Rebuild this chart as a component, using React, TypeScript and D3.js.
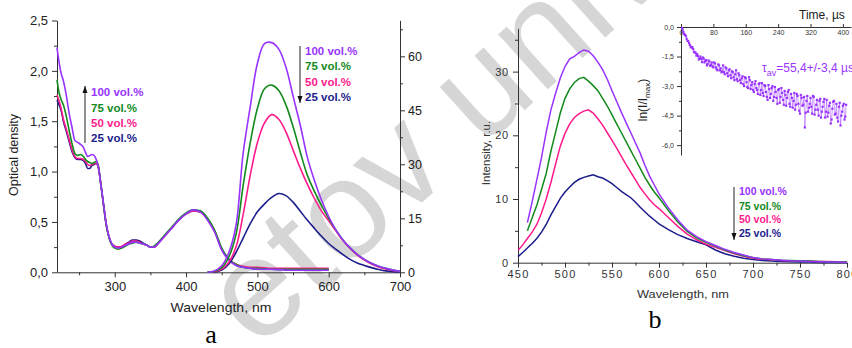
import React, { useEffect, useRef } from "react";
import * as d3 from "d3";

const W = 852;
const H = 348;
const SANS = "'Liberation Sans', Arial, sans-serif";
const SERIF = "'Liberation Serif', 'Times New Roman', serif";

const VIOLET = "#9933ff";
const GREEN = "#138a1c";
const PINK = "#ff1a8c";
const NAVY = "#1c1c8c";

// ---------- panel a: absorption (left axis) ----------
const absWl = [219, 222, 225, 228, 232, 236, 240, 244, 248, 252, 256, 259, 262, 265, 268, 271, 274, 277, 280, 284, 288, 292, 296, 300, 305, 310, 315, 320, 325, 330, 335, 340, 345, 350, 355, 360, 370, 380, 390, 400, 410, 420, 430, 440, 450, 460, 470, 480, 490, 500, 520, 550, 580, 600];
const absViolet = [2.23, 2.08, 1.97, 1.9, 1.76, 1.58, 1.44, 1.31, 1.29, 1.27, 1.24, 1.19, 1.15, 1.16, 1.17, 1.16, 1.12, 1.05, 0.9, 0.69, 0.48, 0.35, 0.28, 0.25, 0.24, 0.25, 0.27, 0.28, 0.3, 0.3, 0.29, 0.28, 0.27, 0.25, 0.25, 0.28, 0.36, 0.44, 0.52, 0.58, 0.62, 0.6, 0.52, 0.4, 0.22, 0.12, 0.07, 0.05, 0.04, 0.03, 0.03, 0.02, 0.02, 0.02];
const absGreen = [1.91, 1.78, 1.71, 1.66, 1.55, 1.41, 1.28, 1.18, 1.16, 1.17, 1.15, 1.12, 1.1, 1.09, 1.08, 1.09, 1.1, 1.06, 0.9, 0.68, 0.47, 0.34, 0.27, 0.24, 0.23, 0.24, 0.26, 0.28, 0.29, 0.3, 0.29, 0.28, 0.27, 0.25, 0.26, 0.29, 0.37, 0.45, 0.53, 0.59, 0.62, 0.61, 0.54, 0.42, 0.24, 0.13, 0.08, 0.05, 0.04, 0.04, 0.03, 0.03, 0.03, 0.03];
const absPink = [1.76, 1.7, 1.62, 1.52, 1.42, 1.32, 1.22, 1.15, 1.13, 1.13, 1.12, 1.1, 1.07, 1.06, 1.07, 1.08, 1.08, 1.04, 0.9, 0.68, 0.47, 0.35, 0.28, 0.26, 0.25, 0.26, 0.28, 0.29, 0.31, 0.31, 0.3, 0.28, 0.27, 0.25, 0.25, 0.28, 0.36, 0.44, 0.52, 0.58, 0.61, 0.6, 0.53, 0.41, 0.23, 0.13, 0.08, 0.06, 0.05, 0.05, 0.04, 0.04, 0.04, 0.04];
const absNavy = [1.71, 1.66, 1.6, 1.5, 1.4, 1.3, 1.2, 1.14, 1.12, 1.12, 1.11, 1.08, 1.03, 1.03, 1.06, 1.07, 1.08, 1.04, 0.9, 0.69, 0.48, 0.35, 0.28, 0.26, 0.25, 0.25, 0.28, 0.3, 0.32, 0.32, 0.31, 0.29, 0.27, 0.25, 0.25, 0.28, 0.36, 0.44, 0.52, 0.58, 0.61, 0.6, 0.53, 0.41, 0.23, 0.13, 0.07, 0.05, 0.04, 0.03, 0.03, 0.02, 0.02, 0.02];

// ---------- panel a: emission (right axis) ----------
const emWl = [430, 440, 450, 460, 470, 480, 490, 500, 510, 520, 530, 540, 550, 560, 570, 580, 590, 600, 610, 620, 630, 640, 650, 660, 670, 680, 690, 700];
const emViolet = [0, 0.4, 1.8, 5.5, 13, 33, 46, 58, 63.5, 63.8, 62, 57, 49, 41, 32, 25.5, 20, 15.5, 11.8, 9, 6.8, 5, 3.6, 2.5, 1.7, 1.1, 0.6, 0.3];
const emGreen = [0, 0.3, 1.3, 4.3, 10.5, 24, 36, 45.5, 51, 52, 50.5, 46.5, 40.5, 33.5, 27, 22.5, 18.5, 15, 11.8, 9, 6.8, 5, 3.6, 2.5, 1.7, 1.1, 0.6, 0.3];
const emPink = [0, 0.2, 0.9, 2.8, 7, 16, 27, 36, 41.5, 43.8, 42.5, 39, 34, 29, 24.5, 20.5, 17, 14.3, 11.5, 8.8, 6.6, 4.8, 3.4, 2.3, 1.5, 0.9, 0.5, 0.2];
const emNavy = [0, 0.1, 0.6, 2.3, 5.5, 9.5, 13.5, 16.8, 19, 20.8, 21.9, 21.3, 19.5, 17, 14.5, 12.2, 10, 8, 6.4, 4.9, 3.6, 2.6, 1.9, 1.3, 0.8, 0.4, 0.2, 0.1];

// ---------- panel b: photoluminescence ----------
const plWl = [450, 455, 460, 465, 470, 475, 480, 485, 490, 495, 500, 505, 510, 515, 520, 525, 530, 535, 540, 545, 550, 555, 560, 565, 570, 575, 580, 585, 590, 595, 600, 610, 620, 630, 640, 650, 660, 670, 680, 690, 700, 710, 720, 730, 740, 750, 760, 770, 780, 790, 800];
const plViolet = [null, null, 6.3, 9.5, 13, 16.5, 20.5, 24, 26.6, 29, 30.8, 32, 32.4, 33, 33.4, 33.2, 32.5, 31.5, 30.3, 28.8, 27, 25.3, 23.6, 22, 20.4, 18.8, 17.2, 15.3, 13.6, 12.2, 10.8, 8.6, 6.7, 5.1, 4.1, 3.3, 2.7, 2.1, 1.6, 1.2, 0.8, 0.6, 0.5, 0.4, 0.3, 0.25, 0.2, 0.15, 0.1, 0.1, 0.05];
const plGreen = [null, null, 5, 7, 9, 11.5, 14, 17.5, 20.5, 23.5, 25.8, 27.3, 28.3, 28.9, 29.1, 28.5, 27.8, 27, 25.8, 24.6, 23.2, 21.8, 20.4, 19, 17.6, 16.2, 14.8, 13.4, 12.2, 11.1, 10.2, 8.2, 6.4, 4.9, 3.9, 3.2, 2.6, 2, 1.5, 1.1, 0.8, 0.6, 0.5, 0.4, 0.35, 0.3, 0.25, 0.2, 0.15, 0.1, 0.1];
const plPink = [1.9, 2.8, 3.8, 4.8, 6, 7.8, 10, 12.6, 15.5, 18.3, 20.3, 21.8, 22.8, 23.4, 23.8, 24, 23.5, 22.6, 21.6, 20.4, 19.2, 18, 16.7, 15.4, 14.2, 13, 11.8, 10.8, 9.9, 9.1, 8.5, 7.1, 5.7, 4.5, 3.6, 2.9, 2.4, 1.9, 1.4, 1, 0.7, 0.55, 0.45, 0.35, 0.3, 0.3, 0.25, 0.2, 0.2, 0.15, 0.1];
const plNavy = [0.95, 1.6, 2.3, 3, 3.8, 4.8, 6, 7.5, 8.8, 10.1, 11.1, 11.9, 12.6, 13.1, 13.4, 13.6, 13.8, 13.5, 13.3, 12.9, 12.4, 11.8, 11.2, 10.7, 10.2, 9.5, 8.7, 8, 7.3, 6.7, 6.1, 5.2, 4.4, 3.8, 3.3, 2.8, 2, 1.4, 1, 0.7, 0.5, 0.35, 0.25, 0.2, 0.15, 0.1, 0.1, 0.05, 0.05, 0.05, 0.05];

// ---------- inset: decay, two interleaved sweeps of points ----------
const decayTA = [0, 4, 8, 12, 16, 20, 24, 28, 32, 36, 40, 44, 48, 52, 56, 60, 64, 68, 72, 76, 80, 84, 88, 92, 96, 100, 104, 108, 112, 116, 120, 124, 128, 132, 136, 140, 144, 148, 152, 156, 160, 164, 168, 172, 176, 180, 184, 188, 192, 196, 200, 204, 208, 212, 216, 220, 224, 228, 232, 236, 240, 244, 248, 252, 256, 260, 264, 268, 272, 276, 280, 284, 288, 292, 296, 300, 304, 308, 312, 316, 320, 324, 328, 332, 336, 340, 344, 348, 352, 356, 360, 364, 368, 372, 376, 380, 384, 388, 392, 396, 400, 404, 408];
const decayLnA = [0, -0.12, -0.36, -0.46, -0.7, -0.82, -1.0, -1.02, -1.26, -1.3, -1.38, -1.65, -1.5, -1.78, -1.6, -1.72, -1.95, -1.7, -1.98, -1.8, -2.05, -1.85, -2.15, -1.9, -2.2, -2.3, -1.95, -2.4, -2.1, -2.5, -2.15, -2.6, -2.3, -2.7, -2.2, -2.75, -2.45, -2.85, -2.5, -3.0, -2.6, -3.05, -2.55, -3.15, -2.8, -3.3, -2.75, -3.2, -2.9, -3.45, -2.85, -3.5, -3.0, -3.55, -2.95, -3.6, -3.1, -3.75, -3.05, -3.6, -3.2, -3.85, -3.1, -3.7, -3.25, -4.0, -3.3, -3.9, -3.4, -4.1, -3.35, -3.95, -3.5, -4.25, -3.45, -4.0, -3.55, -4.35, -3.5, -4.1, -3.6, -4.4, -3.55, -4.2, -3.7, -4.5, -3.65, -4.3, -3.8, -4.6, -3.7, -4.35, -3.85, -4.7, -3.8, -4.45, -3.9, -4.8, -3.85, -4.5, -4.0, -4.7, -3.95];
const decayTB = [2, 6, 10, 14, 18, 22, 26, 30, 34, 38, 42, 46, 50, 54, 58, 62, 66, 70, 74, 78, 82, 86, 90, 94, 98, 102, 106, 110, 114, 118, 122, 126, 130, 134, 138, 142, 146, 150, 154, 158, 162, 166, 170, 174, 178, 182, 186, 190, 194, 198, 202, 206, 210, 214, 218, 222, 226, 230, 234, 238, 242, 246, 250, 254, 258, 262, 266, 270, 274, 278, 282, 286, 290, 294, 298, 302, 306, 310, 314, 318, 322, 326, 330, 334, 338, 342, 346, 350, 354, 358, 362, 366, 370, 374, 378, 382, 386, 390, 394, 398, 402, 406];
const decayLnB = [-0.05, -0.25, -0.4, -0.6, -0.72, -0.92, -1.05, -1.12, -1.3, -1.45, -1.48, -1.6, -1.62, -1.55, -1.8, -1.68, -1.88, -1.75, -1.92, -2.0, -1.8, -2.05, -2.2, -1.95, -2.1, -2.25, -2.3, -2.05, -2.35, -2.2, -2.45, -2.25, -2.55, -2.4, -2.65, -2.35, -2.7, -2.6, -2.9, -2.55, -2.8, -3.1, -2.7, -2.95, -3.2, -2.9, -3.1, -3.4, -2.85, -3.2, -3.35, -2.95, -3.3, -3.7, -3.15, -3.4, -3.0, -3.55, -3.3, -3.9, -3.15, -3.55, -3.35, -3.95, -3.45, -3.6, -3.2, -4.05, -3.6, -3.75, -4.2, -3.4, -3.9, -4.4, -3.6, -3.95, -5.1, -3.75, -4.3, -3.9, -4.05, -3.5, -4.45, -3.95, -4.2, -3.75, -4.6, -4.05, -3.65, -4.3, -4.55, -4.0, -4.9, -4.15, -3.75, -4.4, -4.6, -4.05, -5.0, -4.3, -3.9, -4.55];

const legendLabels = ["100 vol.%", "75 vol.%", "50 vol.%", "25 vol.%"];
const legendColors = [VIOLET, GREEN, PINK, NAVY];

const odTicks = [0, 0.5, 1, 1.5, 2, 2.5];
const odMinor = [0.25, 0.75, 1.25, 1.75, 2.25];
const wlTicksA = [300, 400, 500, 600, 700];
const wlMinorA = [250, 350, 450, 550, 650];
const emTicks = [0, 15, 30, 45, 60];
const emMinor = [7.5, 22.5, 37.5, 52.5, 67.5];
const plTicks = [0, 10, 20, 30];
const plMinor = [5, 15, 25, 35];
const wlTicksB = [450, 500, 550, 600, 650, 700, 750, 800];
const wlMinorB = [475, 525, 575, 625, 675, 725, 775];
const timeTicks = [0, 80, 160, 240, 320, 400];
const lnTicks = [0, -1.5, -3, -4.5, -6];
const lnMinor = [-0.75, -2.25, -3.75, -5.25];

const comma = (f: string) => (d: any) => d3.format(f)(d).replace(".", ",").replace("−", "-");

export default function App() {
  const ref = useRef<SVGSVGElement>(null);

  useEffect(() => {
    if (!ref.current) return;
    const svg = d3.select(ref.current);
    svg.selectAll("*").remove();

    const text = (g: any, x: number, y: number, s: string, o: any = {}) =>
      g
        .append("text")
        .attr(
          "transform",
          `translate(${x},${y})${o.rotate ? ` rotate(${o.rotate})` : ""}${o.sx ? ` scale(${o.sx},1)` : ""}`
        )
        .attr("font-family", o.family || SANS)
        .attr("font-size", o.size || 12)
        .attr("font-weight", o.weight || "normal")
        .attr("text-anchor", o.anchor || "start")
        .attr("fill", o.fill || "#222")
        .text(s);

    // watermark behind everything
    svg
      .append("text")
      .attr("transform", "translate(257,351) rotate(-42)")
      .attr("font-family", SANS)
      .attr("font-size", 140)
      .attr("fill", "#d6d6d6")
      .text("etov unive");

    const styleAxis = (g: any, size: number, fill: string, spacing = 0) => {
      g.selectAll("text")
        .attr("font-family", SANS)
        .attr("font-size", size)
        .attr("fill", fill)
        .attr("letter-spacing", spacing);
      g.selectAll("path,line").attr("stroke", "#333");
    };
    const minor = (axis: any, at: string) => {
      const g = svg.append("g").attr("transform", at).call(axis.tickFormat(() => ""));
      g.select(".domain").remove();
      g.selectAll("line").attr("stroke", "#333");
    };

    // ================= panel a =================
    const xA = d3.scaleLinear().domain([219, 700]).range([57, 400]);
    const yA = d3.scaleLinear().domain([0, 2.5]).range([272.3, 20.5]);
    const yA2 = d3.scaleLinear().domain([0, 70]).range([272.3, 20.3]);

    const gA = svg.append("g");
    const aLeft = gA
      .append("g")
      .attr("transform", "translate(57,0)")
      .call(d3.axisLeft(yA).tickValues(odTicks).tickSize(5).tickSizeOuter(0).tickPadding(4).tickFormat(comma(".1f")));
    styleAxis(aLeft, 13, "#222");
    minor(d3.axisLeft(yA).tickValues(odMinor).tickSize(3), "translate(57,0)");

    const aBottom = gA
      .append("g")
      .attr("transform", "translate(0,272.3)")
      .call(d3.axisBottom(xA).tickValues(wlTicksA).tickSize(5).tickSizeOuter(0).tickPadding(4).tickFormat(d3.format("d")));
    styleAxis(aBottom, 13, "#222");
    minor(d3.axisBottom(xA).tickValues(wlMinorA).tickSize(3), "translate(0,272.3)");

    const aRight = gA
      .append("g")
      .attr("transform", "translate(400,0)")
      .call(d3.axisRight(yA2).tickValues(emTicks).tickSize(5).tickSizeOuter(0).tickPadding(3).tickFormat(d3.format("d")));
    styleAxis(aRight, 12.5, "#222");
    minor(d3.axisRight(yA2).tickValues(emMinor).tickSize(3), "translate(400,0)");

    const lineAbs = d3
      .line<number>()
      .x((_, i) => xA(absWl[i]))
      .y((d) => yA(d))
      .curve(d3.curveMonotoneX);
    const lineEm = d3
      .line<number>()
      .x((_, i) => xA(emWl[i]))
      .y((d) => yA2(d))
      .curve(d3.curveCatmullRom);

    const absSeries = [absNavy, absPink, absGreen, absViolet];
    const emSeries = [emNavy, emPink, emGreen, emViolet];
    const order = [NAVY, PINK, GREEN, VIOLET];
    absSeries.forEach((s, i) =>
      gA.append("path").attr("d", lineAbs(s)).attr("fill", "none").attr("stroke", order[i]).attr("stroke-width", 1.6)
    );
    emSeries.forEach((s, i) =>
      gA.append("path").attr("d", lineEm(s)).attr("fill", "none").attr("stroke", order[i]).attr("stroke-width", 1.6)
    );

    text(gA, 17.5, 155, "Optical density", { rotate: -90, anchor: "middle", size: 12.5 });
    text(gA, 221, 312, "Wavelength, nm", { anchor: "middle", size: 13, sx: 1.08 });
    text(gA, 211, 343, "a", { anchor: "middle", size: 26, family: SERIF, fill: "#000" });

    const arrow = (g: any, x: number, y0: number, y1: number) => {
      g.append("line").attr("x1", x).attr("x2", x).attr("y1", y0).attr("y2", y1).attr("stroke", "#222").attr("stroke-width", 1);
      const dir = y1 > y0 ? 1 : -1;
      g.append("path")
        .attr("d", `M${x - 2.5},${y1 - dir * 7}L${x + 2.5},${y1 - dir * 7}L${x},${y1}Z`)
        .attr("fill", "#111");
    };
    const legend = (g: any, x: number, ys: number[], size: number) =>
      legendLabels.forEach((l, i) => text(g, x, ys[i] + size * 0.36, l, { size, weight: "bold", fill: legendColors[i] }));

    arrow(gA, 85, 143, 86);
    legend(gA, 91, [92, 107.5, 123, 138], 11.5);
    arrow(gA, 300, 46, 103);
    legend(gA, 305, [51, 66, 81.5, 97], 11.5);

    // ================= panel b =================
    const xB = d3.scaleLinear().domain([450, 800]).range([518, 847]);
    const yB = d3.scaleLinear().domain([0, 36.8]).range([262.7, 28.3]);
    const gB = svg.append("g");

    const bLeft = gB
      .append("g")
      .attr("transform", "translate(518,0)")
      .call(d3.axisLeft(yB).tickValues(plTicks).tickSize(5).tickSizeOuter(0).tickPadding(4).tickFormat(d3.format("d")));
    styleAxis(bLeft, 11, "#333", 0.8);
    minor(d3.axisLeft(yB).tickValues(plMinor).tickSize(3), "translate(518,0)");

    const bBottom = gB
      .append("g")
      .attr("transform", "translate(0,262.7)")
      .call(d3.axisBottom(xB).tickValues(wlTicksB).tickSize(5).tickSizeOuter(0).tickPadding(3).tickFormat(d3.format("d")));
    styleAxis(bBottom, 11, "#333", 1.2);
    minor(d3.axisBottom(xB).tickValues(wlMinorB).tickSize(3), "translate(0,262.7)");

    const linePl = d3
      .line<number | null>()
      .defined((d) => d != null)
      .x((_, i) => xB(plWl[i]))
      .y((d) => yB(d as number))
      .curve(d3.curveLinear);
    [plNavy, plPink, plGreen, plViolet].forEach((s, i) =>
      gB.append("path").attr("d", linePl(s)).attr("fill", "none").attr("stroke", order[i]).attr("stroke-width", 1.5)
    );

    text(gB, 490, 153, "Intensity, r.u.", { rotate: -90, anchor: "middle", size: 11.5, fill: "#333" });
    text(gB, 683, 298, "Wavelength, nm", { anchor: "middle", size: 10.5, sx: 1.22, fill: "#333" });
    text(gB, 655, 328, "b", { anchor: "middle", size: 26, family: SERIF, fill: "#000" });

    arrow(gB, 734, 187, 240);
    legend(gB, 739, [191.7, 206, 219.5, 233.5], 10.5);

    // ================= inset =================
    const xI = d3.scaleLinear().domain([0, 420]).range([681, 851]);
    const yI = d3.scaleLinear().domain([-6.5, 0]).range([155, 27]);
    const gI = svg.append("g");

    const iLeft = gI
      .append("g")
      .attr("transform", "translate(681,0)")
      .call(d3.axisLeft(yI).tickValues(lnTicks).tickSize(4).tickSizeOuter(0).tickPadding(3).tickFormat(comma(".1f")));
    styleAxis(iLeft, 7, "#333");
    minor(d3.axisLeft(yI).tickValues(lnMinor).tickSize(2), "translate(681,0)");

    const iTop = gI
      .append("g")
      .attr("transform", "translate(0,27)")
      .call(d3.axisBottom(xI).tickValues(timeTicks).tickSizeInner(-3).tickSizeOuter(0).tickPadding(3).tickFormat(d3.format("d")));
    styleAxis(iTop, 7, "#333");

    gI.append("clipPath").attr("id", "inset-clip").append("rect").attr("x", 681).attr("y", 27).attr("width", 171).attr("height", 128);
    const pts = gI.append("g").attr("clip-path", "url(#inset-clip)");

    const decay = d3
      .merge<[number, number]>([
        decayTA.map((t, i) => [t, decayLnA[i]] as [number, number]),
        decayTB.map((t, i) => [t, decayLnB[i]] as [number, number]),
      ])
      .sort((a, b) => a[0] - b[0]);
    const lineDecay = d3
      .line<[number, number]>()
      .x((d) => xI(d[0]))
      .y((d) => yI(d[1]));
    pts.append("path").attr("d", lineDecay(decay)).attr("fill", "none").attr("stroke", VIOLET).attr("stroke-width", 0.6).attr("opacity", 0.8);
    pts
      .selectAll("rect")
      .data(decay)
      .join("rect")
      .attr("x", (d) => xI(d[0]) - 1.1)
      .attr("y", (d) => yI(d[1]) - 1.1)
      .attr("width", 2.2)
      .attr("height", 2.2)
      .attr("fill", VIOLET);

    text(gI, 799, 19, "Time, µs", { size: 12, fill: "#222" });

    const ylab = gI
      .append("text")
      .attr("transform", "translate(647,100) rotate(-90)")
      .attr("font-family", SANS)
      .attr("font-size", 12)
      .attr("fill", "#222")
      .attr("text-anchor", "middle");
    ylab.append("tspan").text("ln(I/I");
    ylab.append("tspan").attr("font-size", 8).attr("dy", 3).text("max");
    ylab.append("tspan").attr("dy", -3).text(")");

    const tau = gI
      .append("text")
      .attr("x", 762)
      .attr("y", 72)
      .attr("font-family", SANS)
      .attr("font-size", 12)
      .attr("fill", VIOLET);
    tau.append("tspan").text("τ");
    tau.append("tspan").attr("font-size", 9).attr("dy", 4).text("av");
    tau.append("tspan").attr("dy", -4).text("=55,4+/-3,4 µs");
  }, []);

  return (
    <div style={{ position: "absolute", left: 0, top: 0, background: "#fff" }}>
      <svg ref={ref} width={W} height={H} style={{ display: "block", background: "#fff" }} />
    </div>
  );
}
